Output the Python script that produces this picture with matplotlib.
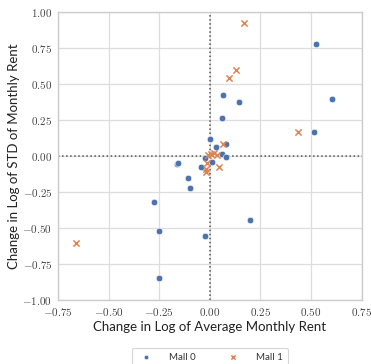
import numpy as np
import matplotlib
matplotlib.use("Agg")
from matplotlib import pyplot as plt
from matplotlib.ticker import FuncFormatter

# change in log of average rent (x) and of rent std (y), per mall
mall0_x = [0.523, 0.604, 0.066, 0.146, 0.061, 0.515, 0.003, 0.080, 0.033, 0.011,
           0.059, 0.079, -0.023, -0.043, -0.163, -0.155, -0.107, -0.097, -0.274,
           -0.252, -0.022, -0.249, 0.199]
mall0_y = [0.782, 0.397, 0.423, 0.379, 0.264, 0.171, 0.122, 0.088, 0.065, -0.040,
           0.016, -0.003, -0.014, -0.072, -0.056, -0.044, -0.153, -0.220, -0.317,
           -0.517, -0.551, -0.843, -0.440]
mall1_x = [0.171, 0.130, 0.095, 0.435, 0.066, -0.007, 0.006, 0.023, 0.035, -0.013,
           -0.017, -0.017, 0.047, -0.659]
mall1_y = [0.928, 0.597, 0.544, 0.167, 0.083, 0.009, 0.016, 0.021, 0.009, -0.049,
           -0.090, -0.109, -0.076, -0.604]

xticks = [-0.75, -0.50, -0.25, 0.00, 0.25, 0.50, 0.75]
yticks = [-1.00, -0.75, -0.50, -0.25, 0.00, 0.25, 0.50, 0.75, 1.00]

blue = '#4c72b0'
orange = '#dd8452'

plt.rcParams['mathtext.fontset'] = 'cm'

fig = plt.figure(figsize=(3.71, 3.64), dpi=100)
ax = fig.add_axes([0.156, 0.175, 0.819, 0.791])

for s in ax.spines.values():
    s.set_color('#cccccc')
    s.set_linewidth(1.0)
ax.grid(True, color='#dddddd', linewidth=0.9)
ax.set_axisbelow(True)
ax.tick_params(length=0, labelsize=8, colors='#444444', pad=4)

ax.axvline(0, color='#555555', linestyle=':', linewidth=1.1, zorder=1)
ax.axhline(0, color='#555555', linestyle=':', linewidth=1.1, zorder=1)

ax.scatter(mall0_x, mall0_y, s=22, color=blue, edgecolor='white', linewidth=0.4,
           label='Mall 0', zorder=3)
ax.scatter(mall1_x, mall1_y, s=20, color=orange, marker='x', linewidth=1.1,
           label='Mall 1', zorder=3)

ax.set_xlim(-0.75, 0.75)
ax.set_ylim(-1.0, 1.0)
ax.set_xticks(xticks)
ax.set_yticks(yticks)
fmt = FuncFormatter(lambda v, p: r'$%.2f$' % v)
ax.xaxis.set_major_formatter(fmt)
ax.yaxis.set_major_formatter(fmt)

ax.set_xlabel('Change in Log of Average Monthly Rent', fontsize=9.5,
              family='Lato', color='#222222', labelpad=2)
ax.set_ylabel('Change in Log of STD of Monthly Rent', fontsize=9.5,
              family='Lato', color='#222222', labelpad=2)

leg = ax.legend(loc='upper center', bbox_to_anchor=(0.5, -0.165), ncol=2,
                fontsize=7, markerscale=0.7, frameon=True, handletextpad=1.4,
                columnspacing=2.8, borderpad=0.5, borderaxespad=0)
leg.get_frame().set_edgecolor('#cccccc')
leg.get_frame().set_linewidth(0.8)
for t in leg.get_texts():
    t.set_family('Lato')
    t.set_color('#333333')

fig.savefig('out.png', dpi=100)
